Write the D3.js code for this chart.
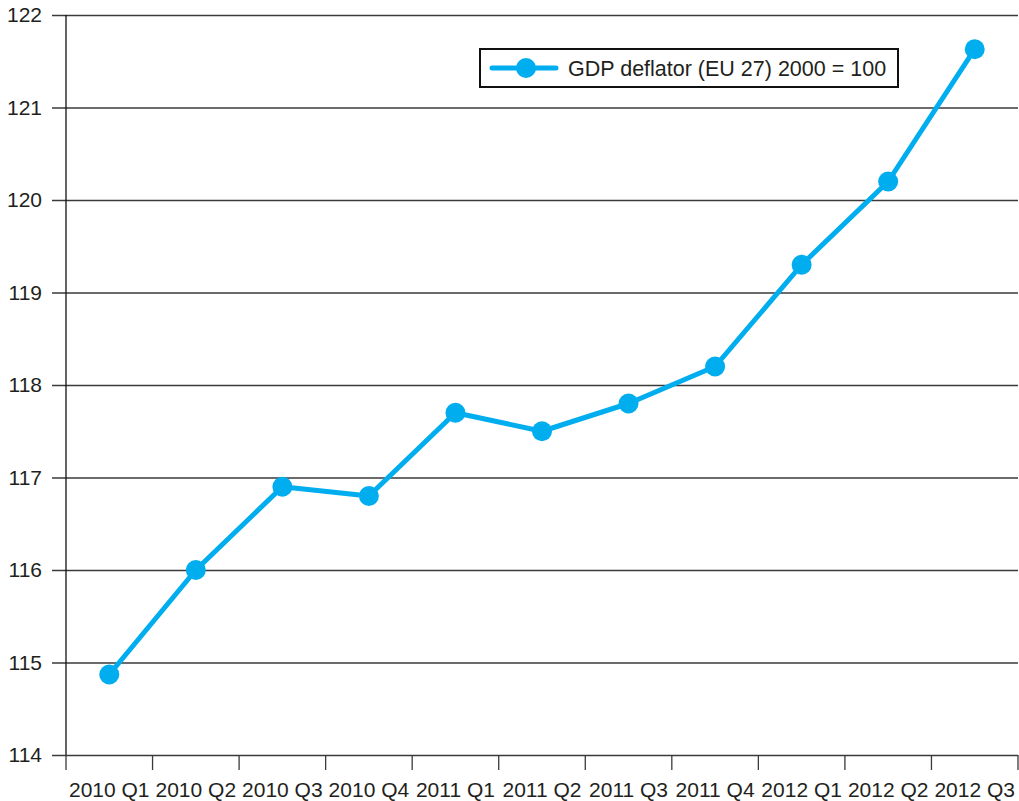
<!DOCTYPE html>
<html>
<head>
<meta charset="utf-8">
<script src="https://cdn.jsdelivr.net/npm/d3@7"></script>
<style>
  body { margin: 0; background: #fff; }
  svg { display: block; font-family: "Liberation Sans", Arial, sans-serif; }
</style>
</head>
<body>
<svg id="chart" width="1019" height="801"></svg>
<script>
var categories = ["2010 Q1", "2010 Q2", "2010 Q3", "2010 Q4", "2011 Q1", "2011 Q2",
                  "2011 Q3", "2011 Q4", "2012 Q1", "2012 Q2", "2012 Q3"];
var deflator = [114.87, 116.0, 116.9, 116.8, 117.7, 117.5, 117.8, 118.2, 119.3, 120.2, 121.63];
var yTicks = [114, 115, 116, 117, 118, 119, 120, 121, 122];
var seriesName = "GDP deflator (EU 27) 2000 = 100";

var LEFT = 66, RIGHT = 1018, TOP = 15, BOTTOM = 755;
var BLUE = "#00aeef";
var TEXT = "#231f20";

var svg = d3.select("#chart");

var x = d3.scaleBand().domain(categories).range([LEFT, RIGHT]);
var y = d3.scaleLinear().domain([114, 122]).range([BOTTOM, TOP]);

// horizontal gridlines, sticking out left of the axis as ticks
var yAxis = svg.append("g")
    .attr("transform", "translate(" + RIGHT + ",0)")
    .call(d3.axisLeft(y).tickValues(yTicks).tickSize(RIGHT - 52).tickPadding(10).tickFormat(d3.format("d")));
yAxis.select(".domain").remove();
yAxis.selectAll(".tick line").attr("stroke", "#3a3a3a").attr("stroke-width", 1.3);
yAxis.selectAll(".tick text")
    .attr("fill", TEXT)
    .style("font-size", "21px");

// left axis line
svg.append("line")
    .attr("x1", LEFT).attr("x2", LEFT)
    .attr("y1", TOP).attr("y2", BOTTOM)
    .attr("stroke", "#111").attr("stroke-width", 1.3);

// x axis: ticks at band boundaries
var bounds = categories.map(function(c) { return x(c); }).concat([RIGHT]);
svg.append("g").selectAll("line")
    .data(bounds)
    .join("line")
    .attr("x1", function(d) { return d; }).attr("x2", function(d) { return d; })
    .attr("y1", BOTTOM).attr("y2", BOTTOM + 15)
    .attr("stroke", "#3a3a3a").attr("stroke-width", 1.3);

svg.append("g").selectAll("text")
    .data(categories)
    .join("text")
    .attr("x", function(d) { return x(d) + x.bandwidth() / 2; })
    .attr("y", 797)
    .attr("text-anchor", "middle")
    .attr("fill", TEXT)
    .style("font-size", "21px")
    .text(function(d) { return d; });

// series line
var line = d3.line()
    .x(function(d, i) { return x(categories[i]) + x.bandwidth() / 2; })
    .y(function(d) { return y(d); });

svg.append("path")
    .datum(deflator)
    .attr("d", line)
    .attr("fill", "none")
    .attr("stroke", BLUE)
    .attr("stroke-width", 5)
    .attr("stroke-linejoin", "round");

svg.append("g").selectAll("circle")
    .data(deflator)
    .join("circle")
    .attr("cx", function(d, i) { return x(categories[i]) + x.bandwidth() / 2; })
    .attr("cy", function(d) { return y(d); })
    .attr("r", 10)
    .attr("fill", BLUE);

// legend
var legend = svg.append("g").attr("transform", "translate(480,49)");
legend.append("rect")
    .attr("width", 418).attr("height", 38)
    .attr("fill", "#fff")
    .attr("stroke", "#111").attr("stroke-width", 2);
legend.append("line")
    .attr("x1", 12).attr("x2", 76).attr("y1", 19).attr("y2", 19)
    .attr("stroke", BLUE).attr("stroke-width", 5).attr("stroke-linecap", "round");
legend.append("circle")
    .attr("cx", 46).attr("cy", 19).attr("r", 10).attr("fill", BLUE);
legend.append("text")
    .attr("x", 88).attr("y", 27)
    .attr("fill", TEXT)
    .style("font-size", "21.5px")
    .text(seriesName);
</script>
</body>
</html>
